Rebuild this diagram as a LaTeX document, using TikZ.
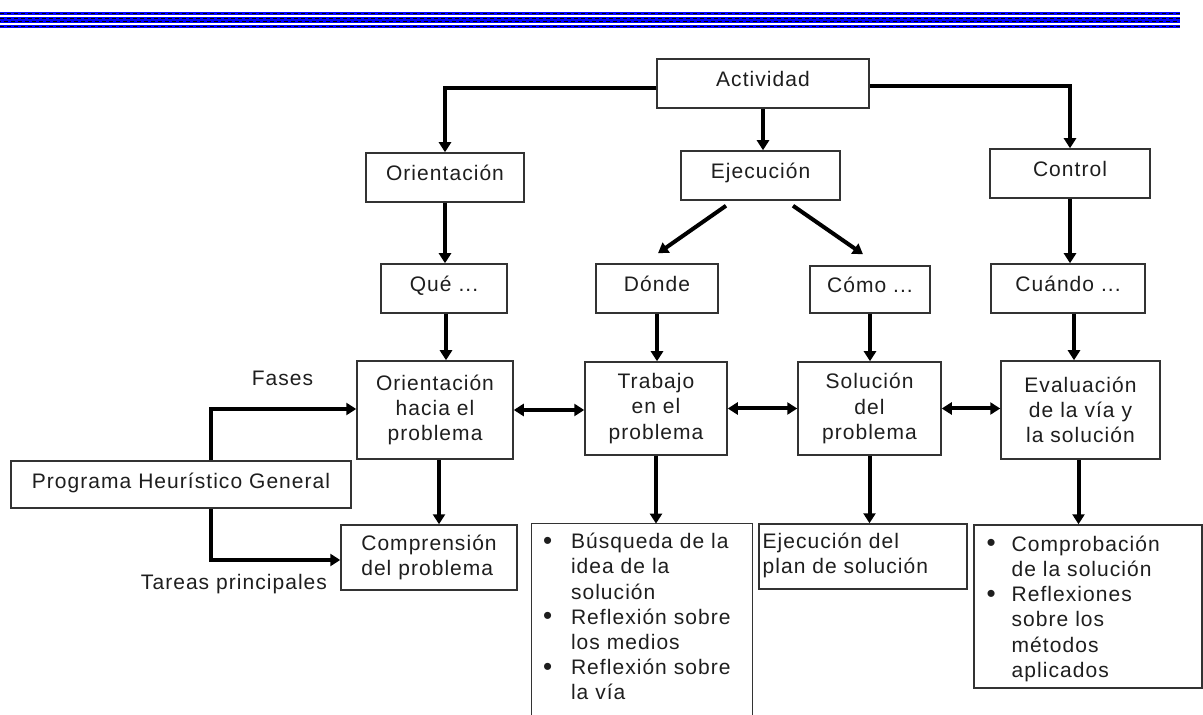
\documentclass[tikz,border=0pt]{standalone}
\usepackage{fontspec}
\setmainfont{Liberation Sans}[LetterSpace=5]
\usetikzlibrary{arrows.meta,calc}
\definecolor{hdrblue}{RGB}{0,0,255}
\definecolor{boxgray}{RGB}{51,51,51}
\definecolor{txtgray}{RGB}{30,30,30}
\newcommand\dfont{\fontsize{10.5}{12.6}\selectfont}
\newcommand\bul[1]{\makebox[#1][l]{\raisebox{-0.2pt}{\fontsize{13}{13}\selectfont\textbullet}}}
\begin{document}
\begin{tikzpicture}[x=0.5pt,y=-0.5pt,
  box/.style={draw=boxgray, line width=0.75pt, inner sep=0pt, text=txtgray, font=\dfont},
  single/.style={box, text height=8pt, text depth=4.5pt},
  multi/.style={box, align=center},
  conn/.style={line width=2pt, -{Triangle[width=6pt,length=5pt]}},
  dconn/.style={line width=2pt, {Triangle[width=6pt,length=5pt]}-{Triangle[width=6pt,length=5pt]}},
  lbl/.style={inner sep=0pt, anchor=base, text=txtgray, font=\dfont},
  listtxt/.style={inner sep=0pt, anchor=base west, text=txtgray, font=\dfont},
  band/.style={fill=hdrblue},
  bandash/.style={draw=black, line width=0.6pt, dash pattern=on 2pt off 1.5pt}
]
\useasboundingbox (0,0) rectangle (1203,715);
\clip (0,0) rectangle (1203,715);
\fill[white] (0,0) rectangle (1203,715);

% header bands
\fill[band] (0,12) rectangle (1180,14.7);
\fill[band] (0,16.7) rectangle (1180,23);
\fill[band] (0,25) rectangle (1180,28.3);
\draw[bandash] (0,13.2) -- (1180,13.2);
\draw[bandash] (0,18.4) -- (1180,18.4);
\draw[bandash, dash phase=1.5pt] (0,21.2) -- (1180,21.2);
\draw[bandash] (0,26.8) -- (1180,26.8);

% top level
\node[single, minimum width=106pt, minimum height=24.5pt] (act) at (763,83.5) {Actividad};
\node[single, minimum width=79pt, minimum height=24.5pt] (ori) at (445,177.5) {Orientación};
\node[single, minimum width=79.5pt, minimum height=24.5pt] (eje) at (760.5,175.5) {Ejecución};
\node[single, minimum width=80pt, minimum height=24.5pt] (con) at (1070,173.5) {Control};

% questions
\node[single, minimum width=63pt, minimum height=24.5pt] (que) at (444,288.5) {Qué ...};
\node[single, minimum width=61pt, minimum height=24.5pt] (don) at (657,288.5) {Dónde};
\node[single, minimum width=60pt, minimum height=23.5pt] (como) at (870,289.5) {Cómo ...};
\node[single, minimum width=77pt, minimum height=24.5pt] (cuan) at (1068,288.5) {Cuándo ...};

% phases
\node[multi, minimum width=78pt, minimum height=49pt] (ohp) at (435,410) {Orientación\\hacia el\\problema};
\node[multi, minimum width=71pt, minimum height=46.5pt] (tra) at (656,408.5) {Trabajo\\en el\\problema};
\node[multi, minimum width=71.5pt, minimum height=46.5pt] (sol) at (869.5,408.5) {Solución\\del\\problema};
\node[multi, minimum width=79.5pt, minimum height=49pt] (eva) at (1080.5,410) {Evaluación\\de la vía y\\la solución};

% program
\node[single, minimum width=170pt, minimum height=23.5pt] (phg) at (181,484.5) {Programa Heurístico General};
\node[lbl] (fases) at (282.5,386) {Fases};
\node[lbl] (tareas) at (234,589) {Tareas principales};

% tasks
\node[multi, align=left, minimum width=88pt, minimum height=32.5pt] (com) at (429,557.5) {Comprensión\\del problema};
\node[inner sep=0pt, minimum width=110pt, minimum height=100pt] (bus) at (642,624) {};
\draw[draw=boxgray, line width=0.75pt] (bus.south west) -- (bus.north west) -- (bus.north east) -- (bus.south east);
\node[listtxt] (bustxt) at ($(bus.north west)+(11,25)$) {\begin{tabular}[t]{@{}l@{}}
\bul{14pt}Búsqueda de la\\
\hspace*{14pt}idea de la\\
\hspace*{14pt}solución\\
\bul{14pt}Reflexión sobre\\
\hspace*{14pt}los medios\\
\bul{14pt}Reflexión sobre\\
\hspace*{14pt}la vía
\end{tabular}};
\node[box, minimum width=104pt, minimum height=32.5pt] (epl) at (863,556.5) {};
\node[listtxt] (epltxt) at ($(epl.north west)+(4,25)$) {\begin{tabular}[t]{@{}l@{}}Ejecución del\\plan de solución\end{tabular}};
\node[box, minimum width=114pt, minimum height=81.5pt] (cmp) at (1088,606.5) {};
\node[listtxt] (cmptxt) at ($(cmp.north west)+(13,27)$) {\begin{tabular}[t]{@{}l@{}}
\bul{12.5pt}Comprobación\\
\hspace*{12.5pt}de la solución\\
\bul{12.5pt}Reflexiones\\
\hspace*{12.5pt}sobre los\\
\hspace*{12.5pt}métodos\\
\hspace*{12.5pt}aplicados
\end{tabular}};

% connectors from Actividad
\draw[conn] ($(act.west)+(0,4.5)$) -| (ori.north);
\draw[conn] (act.south) -- (act.south |- eje.north);
\draw[conn] ($(act.east)+(0,2.5)$) -| (con.north);

% to questions
\draw[conn] (ori.south) -- (ori.south |- que.north);
\draw[conn] ($(eje.south)+(-34.5,5)$) -- ($(don.north)+(1,-10)$);
\draw[conn] ($(eje.south)+(32.5,5)$) -- ($(como.north)+(-7,-11)$);
\draw[conn] (con.south) -- (con.south |- cuan.north);

% to phases
\draw[conn] ($(que.south)+(2,0)$) -- ($(que.south |- ohp.north)+(2,0)$);
\draw[conn] (don.south) -- (don.south |- tra.north);
\draw[conn] (como.south) -- (como.south |- sol.north);
\draw[conn] ($(cuan.south)+(6,0)$) -- ($(cuan.south |- eva.north)+(6,0)$);

% between phases
\draw[dconn] (ohp.east) -- (ohp.east -| tra.west);
\draw[dconn] (tra.east) -- (tra.east -| sol.west);
\draw[dconn] (sol.east) -- (sol.east -| eva.west);

% to tasks
\draw[conn] ($(ohp.south)+(4,0)$) -- ($(ohp.south |- com.north)+(4,0)$);
\draw[conn] (tra.south) -- (tra.south |- bus.north);
\draw[conn] (sol.south) -- (sol.south |- epl.north);
\draw[conn] ($(eva.south)+(-2,0)$) -- ($(eva.south |- cmp.north)+(-2,0)$);

% program links
\draw[conn] ($(phg.north)+(30,0)$) |- ($(ohp.west)+(0,-1)$);
\draw[conn] ($(phg.south)+(30,0)$) |- ($(com.west)+(0,2.5)$);
\end{tikzpicture}
\end{document}
